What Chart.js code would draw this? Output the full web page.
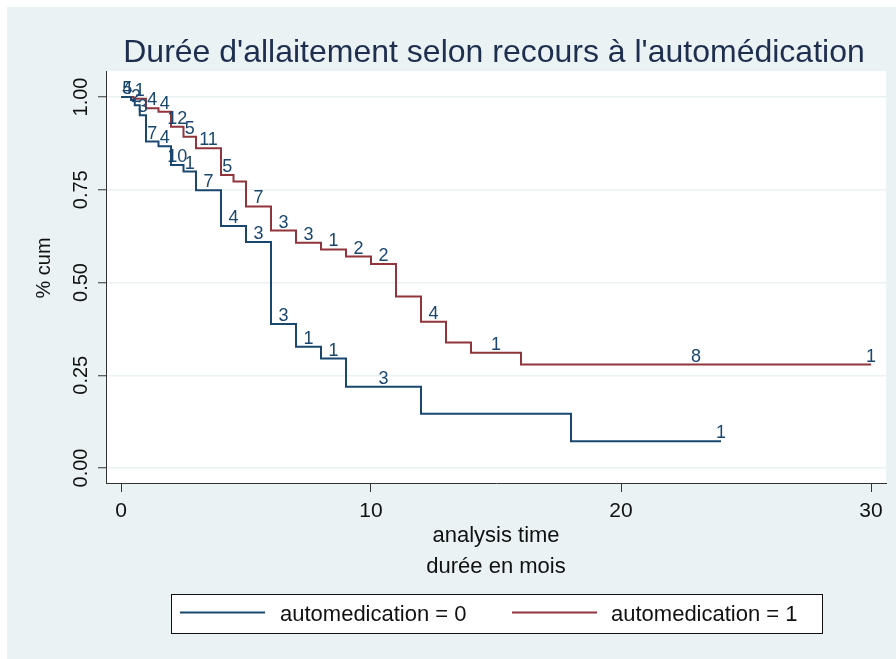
<!DOCTYPE html>
<html><head><meta charset="utf-8">
<script src="https://cdn.jsdelivr.net/npm/chart.js@4.4.1/dist/chart.umd.min.js"></script>
<style>html,body{margin:0;padding:0;background:#fff;}canvas{display:block;}</style>
</head><body>
<canvas id="c" width="896" height="659"></canvas>
<script>
// ---- data ----
const titleText = "Durée d'allaitement selon recours à l'automédication";
const xTitleLines = ["analysis time", "durée en mois"];
const yTitleText = "% cum";
const seriesNames = ["automedication = 0", "automedication = 1"];
const xTickValues = [0, 10, 20, 30];
const yTickValues = [0, 0.25, 0.5, 0.75, 1];

// automedication = 0 (step points: time, survival after the step)
const timesA = [0, 0.4, 0.55, 0.75, 1, 1.5, 2, 2.5, 3, 4, 5, 6, 7, 8, 9, 12, 18, 24];
const survA  = [1, 0.992, 0.978, 0.951, 0.880, 0.867, 0.817, 0.799, 0.749, 0.652, 0.609, 0.388, 0.327, 0.295, 0.219, 0.146, 0.072, 0.072];
// automedication = 1
const timesB = [0, 0.5, 1, 1.5, 2, 2.5, 3, 4, 4.5, 5, 6, 7, 8, 9, 10, 11, 12, 13, 14, 16, 30];
const survB  = [1, 0.995, 0.970, 0.960, 0.920, 0.893, 0.862, 0.790, 0.772, 0.705, 0.640, 0.607, 0.589, 0.570, 0.550, 0.462, 0.394, 0.338, 0.311, 0.279, 0.279];

// count labels above each curve
const labelTimesA = [0.25, 0.6, 0.875, 1.25, 1.75, 2.25, 2.75, 3.5, 4.5, 5.5, 6.5, 7.5, 8.5, 10.5, 24];
const labelTextA  = ['5', '2', '3', '7', '4', '10', '1', '7', '4', '3', '3', '1', '1', '3', '1'];
const labelTimesB = [0.25, 0.75, 1.25, 1.75, 2.25, 2.75, 3.5, 4.25, 5.5, 6.5, 7.5, 8.5, 9.5, 10.5, 12.5, 15, 23, 30];
const labelTextB  = ['4', '1', '4', '4', '12', '5', '11', '5', '7', '3', '3', '1', '2', '2', '4', '1', '8', '1'];

// ---- styling ----
const FONT = "'Liberation Sans', Arial, Helvetica, sans-serif";
const COL_A = '#1a476f';
const COL_B = '#90353b';
const BG = '#eaf2f3';

function toPoints(ts, ss) { return ts.map((t, i) => ({x: t, y: ss[i]})); }
function stepValue(ts, ss, t) {
  let v = ss[0];
  for (let i = 0; i < ts.length; i++) { if (ts[i] <= t + 1e-9) v = ss[i]; }
  return v;
}

const deco = {
  id: 'deco',
  beforeDraw(chart) {
    const {ctx, chartArea: a} = chart;
    ctx.save();
    ctx.fillStyle = '#fff'; ctx.fillRect(0, 0, chart.width, chart.height);
    ctx.fillStyle = BG; ctx.fillRect(7, 7, chart.width - 7, chart.height - 7);
    ctx.fillStyle = '#fff'; ctx.fillRect(a.left, a.top, a.right - a.left, a.bottom - a.top);
    ctx.restore();
  },
  afterDatasetsDraw(chart) {
    const {ctx} = chart;
    const xs = chart.scales.x, ys = chart.scales.y;
    ctx.save();
    ctx.font = '18px ' + FONT;
    ctx.fillStyle = COL_A;
    ctx.textAlign = 'center';
    ctx.textBaseline = 'alphabetic';
    const draw = (times, texts, ts, ss) => {
      times.forEach((t, i) => {
        const v = stepValue(ts, ss, t);
        ctx.fillText(texts[i], xs.getPixelForValue(t), ys.getPixelForValue(v) - 3);
      });
    };
    draw(labelTimesA, labelTextA, timesA, survA);
    draw(labelTimesB, labelTextB, timesB, survB);
    ctx.restore();
  },
  afterDraw(chart) {
    const {ctx, chartArea: a} = chart;
    const cx = (a.left + a.right) / 2;
    ctx.save();
    // title
    ctx.fillStyle = '#1e2e4e';
    ctx.font = '32px ' + FONT;
    ctx.textAlign = 'center';
    ctx.textBaseline = 'alphabetic';
    ctx.fillText(titleText, cx - 2, 62);
    // x title
    ctx.fillStyle = '#111';
    ctx.font = '22px ' + FONT;
    ctx.fillText(xTitleLines[0], cx, 542);
    ctx.fillText(xTitleLines[1], cx, 573);
    // y title
    ctx.save();
    ctx.translate(50, 268);
    ctx.rotate(-Math.PI / 2);
    ctx.font = '20px ' + FONT;
    ctx.fillText(yTitleText, 0, 0);
    ctx.restore();
    // legend
    const L = {x: 171, y: 594, w: 651, h: 39};
    ctx.fillStyle = '#fff';
    ctx.fillRect(L.x, L.y, L.w, L.h);
    ctx.strokeStyle = '#111';
    ctx.lineWidth = 1;
    ctx.strokeRect(L.x + 0.5, L.y + 0.5, L.w, L.h);
    const items = [{c: COL_A, x0: 180, x1: 265, tx: 280, t: seriesNames[0]},
                   {c: COL_B, x0: 512, x1: 597, tx: 611, t: seriesNames[1]}];
    ctx.font = '22px ' + FONT;
    ctx.textAlign = 'left';
    items.forEach(it => {
      ctx.strokeStyle = it.c; ctx.lineWidth = 2;
      ctx.beginPath(); ctx.moveTo(it.x0, 612.5); ctx.lineTo(it.x1, 612.5); ctx.stroke();
      ctx.fillStyle = '#111';
      ctx.fillText(it.t, it.tx, 621);
    });
    ctx.restore();
  }
};

new Chart(document.getElementById('c'), {
  type: 'line',
  data: {
    datasets: [
      {label: seriesNames[0], data: toPoints(timesA, survA), borderColor: COL_A, borderWidth: 2,
       stepped: 'before', pointRadius: 0, fill: false},
      {label: seriesNames[1], data: toPoints(timesB, survB), borderColor: COL_B, borderWidth: 2,
       stepped: 'before', pointRadius: 0, fill: false}
    ]
  },
  options: {
    responsive: false,
    animation: false,
    devicePixelRatio: 1,
    layout: {padding: {left: 0, top: 71, right: 10, bottom: 0}},
    plugins: {legend: {display: false}, tooltip: {enabled: false}, title: {display: false}},
    scales: {
      x: {
        type: 'linear', min: -0.6, max: 30.6,
        afterBuildTicks: s => { s.ticks = xTickValues.map(v => ({value: v})); },
        afterFit: s => { s.height = 176; },
        ticks: {font: {family: FONT, size: 21}, color: '#111', padding: 7, maxRotation: 0,
                callback: v => String(v)},
        grid: {display: true, drawOnChartArea: false, drawTicks: true, tickLength: 9,
               tickColor: '#333', tickWidth: 1},
        border: {display: true, color: '#333', width: 1}
      },
      y: {
        type: 'linear', min: -0.0404, max: 1.0701,
        afterBuildTicks: s => { s.ticks = yTickValues.map(v => ({value: v})); },
        afterFit: s => { s.width = 106; },
        ticks: {font: {family: FONT, size: 20}, color: '#111', padding: -3,
                minRotation: 90, maxRotation: 90, crossAlign: 'center',
                callback: v => Number(v).toFixed(2)},
        grid: {display: true, drawOnChartArea: true, color: BG, lineWidth: 1.5,
               drawTicks: true, tickLength: 8, tickColor: '#333', tickWidth: 1},
        border: {display: true, color: '#333', width: 1}
      }
    }
  },
  plugins: [deco]
});
</script>
</body></html>
